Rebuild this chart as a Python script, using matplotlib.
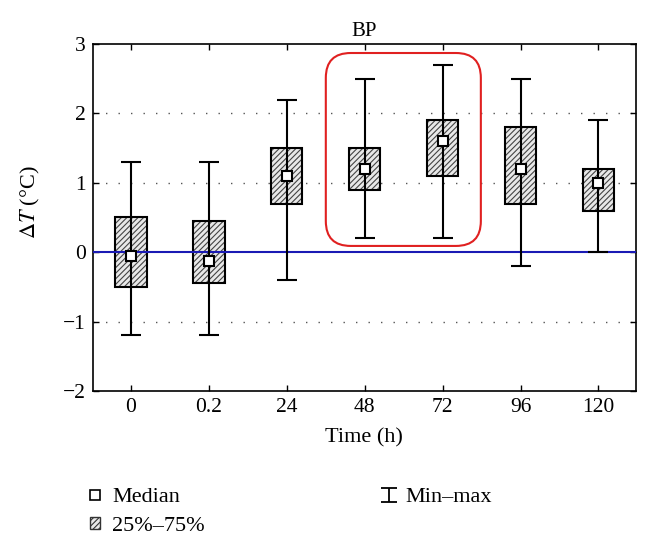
import matplotlib.pyplot as plt
from matplotlib.patches import FancyBboxPatch, Patch
from matplotlib.lines import Line2D
from matplotlib.path import Path

plt.rcParams['font.family'] = ['Liberation Serif', 'DejaVu Serif']
plt.rcParams['mathtext.fontset'] = 'stix'
plt.rcParams['hatch.linewidth'] = 0.8

# values
times = ['0', '0.2', '24', '48', '72', '96', '120']
medians = [-0.05, -0.12, 1.1, 1.2, 1.6, 1.2, 1.0]
q1 = [-0.5, -0.45, 0.7, 0.9, 1.1, 0.7, 0.6]
q3 = [0.5, 0.45, 1.5, 1.5, 1.9, 1.8, 1.2]
mins = [-1.2, -1.2, -0.4, 0.2, 0.2, -0.2, 0.0]
maxs = [1.3, 1.3, 2.2, 2.5, 2.7, 2.5, 1.9]

x = list(range(len(times)))

fig = plt.figure(figsize=(6.54, 5.45), dpi=100)
ax = fig.add_axes([0.142, 0.2826, 0.8303, 0.6367])

# dotted grid
for yv in [-1, 1, 2]:
    ax.axhline(yv, color='#555555', lw=1, ls=(0, (1, 8)), zorder=0)

heights = [b - a for a, b in zip(q1, q3)]
# hatched boxes
ax.bar(x, heights, bottom=q1, width=0.4, color='#e8e8e8', edgecolor='#444444',
       hatch='//////', lw=0, zorder=2)
ax.bar(x, heights, bottom=q1, width=0.4, fill=False, edgecolor='black',
       lw=1.5, zorder=3)

# zero line
ax.axhline(0, color='#1a1ab4', lw=1.5, zorder=4)

# min-max whiskers
lo = [m - a for m, a in zip(medians, mins)]
hi = [b - m for m, b in zip(medians, maxs)]
ax.errorbar(x, medians, yerr=[lo, hi], fmt='none', ecolor='black',
            elinewidth=1.5, capsize=7.5, capthick=1.5, zorder=5)
ax.plot(x, medians, 's', ms=7.5, mfc='white', mec='black', mew=1.5, zorder=6)

# red highlight around 48 and 72
ax.add_patch(FancyBboxPatch((2.5, 0.09), 1.99, 2.78,
                            boxstyle='round,pad=0,rounding_size=0.32',
                            mutation_aspect=1.12, fill=False,
                            edgecolor='#e02020', lw=1.5, zorder=7))

ax.set_xlim(-0.49, 6.48)
ax.set_ylim(-2, 3)
ax.set_xticks(x)
ax.set_xticklabels(times)
ax.set_yticks([-2, -1, 0, 1, 2, 3])
ax.set_yticklabels(['\u22122', '\u22121', '0', '1', '2', '3'])
ax.tick_params(direction='in', top=True, right=True, length=4, width=1,
               labelsize=15.5, pad=5)
for s in ax.spines.values():
    s.set_linewidth(1.2)

ax.set_title('BP', fontsize=15, pad=6)
ax.set_xlabel('Time (h)', fontsize=16, labelpad=8)
ax.set_ylabel(r'$\Delta T$ (°C)', fontsize=16)
ax.yaxis.set_label_coords(-0.094, 0.545)

# legend
ibar = Path([(-1, -0.85), (1, -0.85), (0, -0.85), (0, 0.85), (-1, 0.85), (1, 0.85)],
            [Path.MOVETO, Path.LINETO, Path.MOVETO, Path.LINETO,
             Path.MOVETO, Path.LINETO])
handles = [
    Line2D([], [], ls='none', marker='s', ms=6.5, mfc='white', mec='black', mew=1.2),
    Patch(facecolor='#e8e8e8', edgecolor='#333333', hatch='//////', lw=1),
    Line2D([], [], ls='none', marker=ibar, ms=12, color='black', mew=1.3,
           fillstyle='none'),
]
labels = ['Median', '25%\u201375%', 'Min\u2013max']
fig.legend(handles, labels, ncol=2, loc='upper left',
           bbox_to_anchor=(0.1376, 0.104), frameon=False, fontsize=16,
           handlelength=0.45, handleheight=0.45, handletextpad=0.54,
           columnspacing=8.05, labelspacing=0.45, borderaxespad=0,
           borderpad=0)

plt.savefig('out.png', dpi=100)
